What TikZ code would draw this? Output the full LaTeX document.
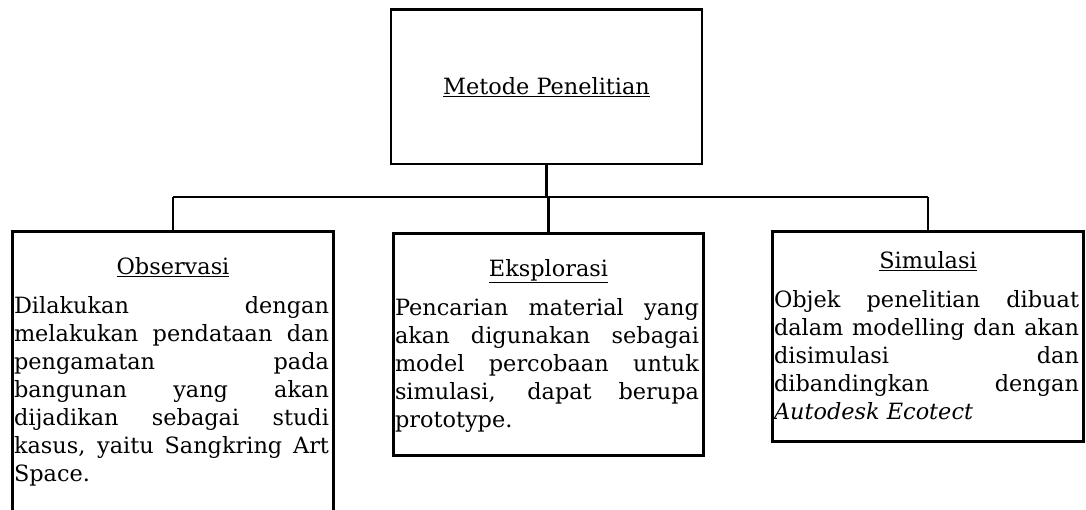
\documentclass[tikz,border=0pt]{standalone}
\usepackage{fontspec}
\setmainfont{DejaVu Serif}
\usetikzlibrary{positioning}
% width, height, title strut, title, text
\newcommand{\boxbody}[5]{%
	\parbox[t][#2][t]{#1}{\tolerance=10000\hyphenpenalty=10000\hbadness=10000\rightskip=3pt
		{\centering\rule{0pt}{#3}\underline{#4}\par}\vspace{10.5pt}#5}}

\begin{document}
\begin{tikzpicture}[x=1pt, y=-1pt,
		catbox/.style={draw, line width=3pt, anchor=north west, inner xsep=1.5pt, inner ysep=0pt, font=\fontsize{22.4}{28}\selectfont},
		stem/.style={line width=2.6pt},
		busline/.style={line width=1.8pt}]
		\useasboundingbox (0,0) rectangle (1086,509);
		\node[draw, line width=2.8pt, minimum width=311pt, minimum height=154.5pt, inner sep=0pt, font=\fontsize{22.4}{28}\selectfont] (metode) at (546.5,86.75) {\underline{Metode Penelitian}};
		\node[catbox] (obs) at (11,230) {\boxbody{318pt}{300pt}{43pt}{Observasi}{Dilakukan dengan\linebreak melakukan pendataan dan\linebreak pengamatan pada\linebreak bangunan yang akan\linebreak dijadikan sebagai studi\linebreak kasus, yaitu Sangkring Art\linebreak Space.}};
		\node[catbox] (eks) at (392,232) {\boxbody{307pt}{222pt}{43pt}{Eksplorasi}{Pencarian material yang\linebreak akan digunakan sebagai\linebreak model percobaan untuk\linebreak simulasi, dapat berupa\linebreak prototype.}};
		\node[catbox] (sim) at (771,230) {\boxbody{308pt}{210pt}{37pt}{Simulasi}{Objek penelitian dibuat\linebreak dalam modelling dan akan\linebreak disimulasi dan\linebreak dibandingkan dengan\linebreak \textit{Autodesk Ecotect}}};
		\coordinate (bus) at (546.5,197);
		\draw[stem] (metode.south) -- (bus);
		\draw[busline] (obs.north |- bus) -- (sim.north |- bus);
		\foreach \n in {obs,eks,sim}
		\draw[stem] (\n.north |- bus) -- (\n.north);
\end{tikzpicture}
\end{document}
